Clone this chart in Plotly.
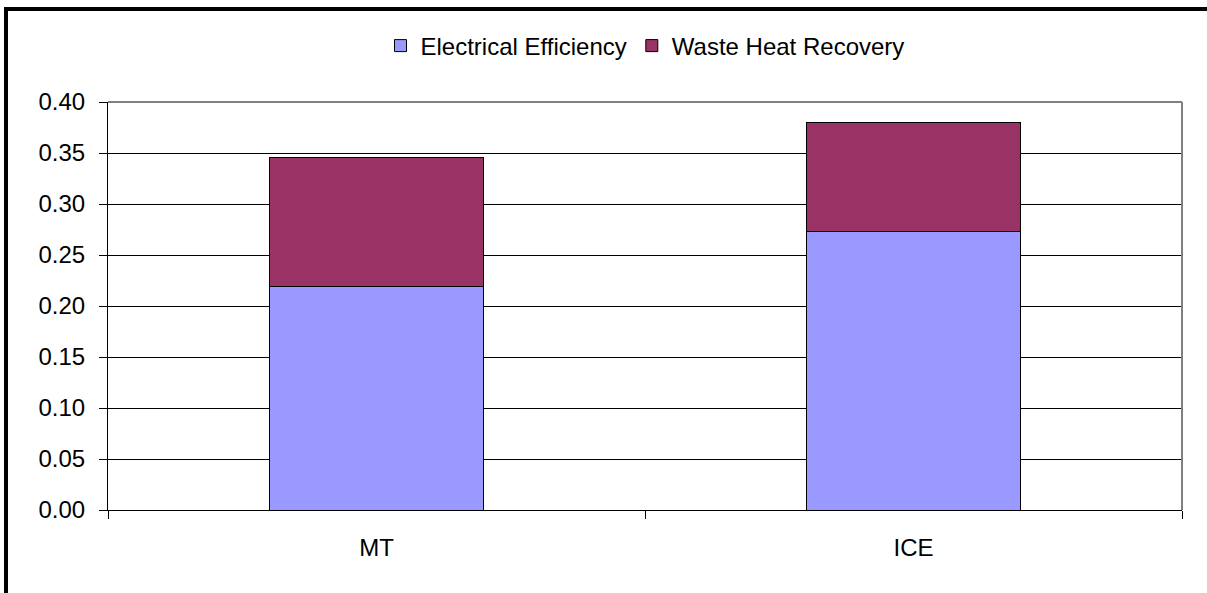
import plotly.graph_objects as go

categories = ["MT", "ICE"]
electrical_efficiency = [0.219, 0.273]
waste_heat_recovery = [0.127, 0.107]
y_tick_values = [0.00, 0.05, 0.10, 0.15, 0.20, 0.25, 0.30, 0.35, 0.40]

FONT = "Arial, Liberation Sans, sans-serif"
FS = 24
W, H = 1207, 593
L, R, T, B = 108, 25, 102, 83
PW, PH = W - L - R, H - T - B


def px_x(p):
    return (p - L) / PW


def px_y(p):
    return (H - B - p) / PH


fig = go.Figure()
fig.add_trace(go.Bar(
    x=categories, y=electrical_efficiency, name="Electrical Efficiency",
    marker=dict(color="#9999FF", line=dict(color="#000000", width=1)),
))
fig.add_trace(go.Bar(
    x=categories, y=waste_heat_recovery, name="Waste Heat Recovery",
    marker=dict(color="#993366", line=dict(color="#000000", width=1)),
))

fig.update_layout(
    width=W, height=H,
    barmode="stack", bargap=0.6,
    margin=dict(l=L, r=R, t=T, b=B, pad=0),
    paper_bgcolor="white", plot_bgcolor="white",
    font=dict(family=FONT, size=FS, color="#000000"),
    legend=dict(orientation="h", x=0.5, xanchor="center", y=px_y(46), yanchor="middle",
                font=dict(family=FONT, size=FS, color="#000000"), traceorder="normal",
                itemwidth=30),
    xaxis=dict(showgrid=False, showline=True, linecolor="#000000", linewidth=1,
               ticks="outside", tickson="boundaries", ticklen=8, tickcolor="#000000",
               ticklabelstandoff=16, tickfont=dict(family=FONT, size=FS)),
    yaxis=dict(range=[0, 0.4], tickvals=y_tick_values, tickformat=".2f",
               showgrid=True, gridcolor="#000000", gridwidth=1,
               showline=True, linecolor="#000000", linewidth=1,
               ticks="outside", ticklen=8, tickcolor="#000000",
               ticklabelstandoff=9, zeroline=False,
               tickfont=dict(family=FONT, size=FS)),
    showlegend=True,
)

# plot-area border (gray top/right)
fig.add_shape(type="line", xref="paper", yref="paper", x0=0, x1=1, y0=1, y1=1,
              line=dict(color="#808080", width=2), layer="above")
fig.add_shape(type="line", xref="paper", yref="paper", x0=1, x1=1, y0=0, y1=1,
              line=dict(color="#808080", width=2), layer="above")
# outer chart frame (visible top and left edges)
fig.add_shape(type="line", xref="paper", yref="paper",
              x0=px_x(4), x1=px_x(W + 5), y0=px_y(9), y1=px_y(9),
              line=dict(color="#000000", width=4), layer="above")
fig.add_shape(type="line", xref="paper", yref="paper",
              x0=px_x(6), x1=px_x(6), y0=px_y(7), y1=px_y(H + 5),
              line=dict(color="#000000", width=4), layer="above")

fig.write_html("out.html", config={"displayModeBar": False},
               post_script="document.body.style.margin='0';")
